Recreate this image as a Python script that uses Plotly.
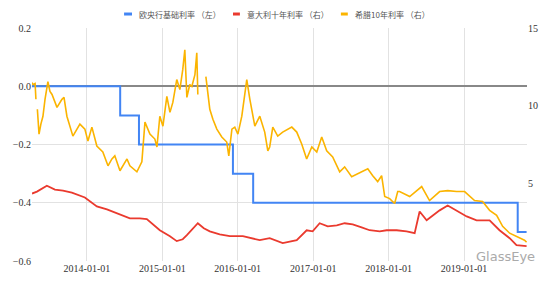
import plotly.graph_objects as go

# ECB deposit rate (left axis), step changes
ecb_dates = ["2013-04-10", "2014-06-11", "2014-09-10", "2015-12-09", "2016-03-16", "2019-09-18", "2019-10-31"]
ecb_vals = [0.0, -0.1, -0.2, -0.3, -0.4, -0.5, -0.5]

# Italy 10Y (right axis)
ita_dates = ["2013-04-10", "2013-05-04", "2013-06-21", "2013-07-30", "2013-09-07", "2013-10-20", "2013-12-22",
             "2014-02-18", "2014-04-08", "2014-05-26", "2014-07-28", "2014-09-14", "2014-10-18", "2014-12-20",
             "2015-02-07", "2015-03-12", "2015-04-10", "2015-04-30", "2015-06-22", "2015-07-21", "2015-08-19",
             "2015-10-06", "2015-11-24", "2016-01-26", "2016-03-09", "2016-04-17", "2016-06-04", "2016-07-08",
             "2016-08-06", "2016-10-13", "2016-11-30", "2016-12-29", "2017-02-01", "2017-03-12", "2017-04-25",
             "2017-06-02", "2017-07-11", "2017-08-23", "2017-10-01", "2017-11-19", "2017-12-22", "2018-02-09",
             "2018-03-29", "2018-05-07", "2018-05-31", "2018-07-04", "2018-08-02", "2018-09-05", "2018-10-14",
             "2018-11-26", "2019-01-14", "2019-03-03", "2019-05-05", "2019-06-22", "2019-08-10", "2019-09-12",
             "2019-10-11", "2019-10-31"]
ita_vals = [4.34, 4.47, 4.85, 4.60, 4.53, 4.40, 4.09,
            3.51, 3.32, 3.06, 2.74, 2.74, 2.70, 1.98,
            1.60, 1.28, 1.40, 1.66, 2.43, 2.11, 1.91,
            1.72, 1.60, 1.60, 1.47, 1.34, 1.47, 1.28,
            1.15, 1.34, 1.98, 1.91, 2.43, 2.23, 2.30,
            2.43, 2.36, 2.17, 1.98, 1.91, 1.98, 1.98,
            1.91, 1.79, 3.19, 2.62, 2.94, 3.26, 3.57,
            3.26, 2.87, 2.62, 2.62, 1.98, 1.47, 1.02,
            0.96, 0.96]

# Greece 10Y (right axis); None marks gaps in the data
grc_dates = ["2013-04-05", "2013-04-15", "2013-04-25", "2013-04-29", "2013-05-02", "2013-05-06", "2013-05-14",
             "2013-05-23", "2013-06-02", "2013-06-12", "2013-06-26", "2013-07-06", "2013-07-16", "2013-08-09",
             "2013-09-02", "2013-09-12", "2013-09-26", "2013-10-25", "2013-11-14", "2013-11-28", "2013-12-22",
             "2014-01-06", "2014-01-25", "2014-02-18", "2014-03-19", "2014-04-13", "2014-05-02", "2014-05-16",
             "2014-06-10", "2014-07-14", "2014-07-28", "2014-08-31", "2014-09-24", "2014-10-09", "2014-11-02",
             "2014-11-26", "2014-12-06", "2014-12-15", "2014-12-20", "2015-01-04", "2015-01-23", "2015-02-07",
             "2015-02-21", "2015-03-12", "2015-03-27", "2015-04-10", "2015-04-20", "2015-04-30", "2015-05-14",
             "2015-05-24", "2015-06-08", "2015-06-17", "2015-06-22", "2015-07-10", "2015-07-31", "2015-08-09",
             "2015-08-19", "2015-09-03", "2015-09-22", "2015-10-16", "2015-11-09", "2015-11-19", "2015-12-04",
             "2015-12-18", "2016-01-02", "2016-01-21", "2016-02-14", "2016-02-29", "2016-03-24", "2016-04-17",
             "2016-05-11", "2016-05-26", "2016-06-04", "2016-06-19", "2016-07-13", "2016-08-06", "2016-09-19",
             "2016-10-13", "2016-11-06", "2016-11-30", "2016-12-25", "2017-01-18", "2017-02-11", "2017-03-07",
             "2017-04-05", "2017-05-09", "2017-06-02", "2017-07-06", "2017-08-04", "2017-09-22", "2017-10-16",
             "2017-11-09", "2017-11-28", "2017-12-13", "2018-01-06", "2018-01-30", "2018-02-14", "2018-02-23",
             "2018-04-13", "2018-06-10", "2018-07-18", "2018-09-05", "2018-10-14", "2018-11-26", "2019-01-04",
             "2019-02-21", "2019-04-01", "2019-05-05", "2019-06-08", "2019-07-07", "2019-08-10", "2019-09-12",
             "2019-10-21", "2019-10-31"]
grc_vals = [11.55, 11.36, 11.43, 10.41, None, 9.77, 8.17,
            8.81, 9.32, 10.41, 11.55, 10.91, 10.72, 9.89,
            10.41, 10.53, 9.32, 8.04, 8.49, 8.81, 8.49,
            7.72, 8.62, 7.40, 7.02, 6.13, 6.57, 6.77,
            5.81, 6.57, 6.13, 5.74, 6.38, 8.94, 8.17,
            7.85, 7.34, 8.81, 9.32, 8.68, 10.60, 9.57,
            10.21, 11.68, 11.04, 12.32, 13.60, 10.53, 11.36,
            11.23, 12.00, 13.40, 10.72, None, 11.87, 10.72,
            9.77, 9.13, 8.49, 7.98, 7.66, 6.77, 8.49,
            8.62, 8.17, 9.32, 11.68, 10.41, 8.68, 9.32,
            8.30, 7.09, 7.34, 8.62, 8.04, 8.30, 8.62,
            8.30, 7.53, 6.57, 7.34, 7.02, 7.98, 7.09,
            6.70, 5.74, 6.06, 5.43, 5.62, 5.94, 5.49,
            5.11, 5.49, 4.15, 4.02, 3.70, 4.47, 4.47,
            4.15, 4.79, 3.89, 4.47, 4.53, 4.47, 4.47,
            3.89, 3.83, 3.26, 2.94, 2.23, 1.79, 1.60,
            1.34, 1.21]

legend_names = ["欧央行基础利率 （左）", "意大利十年利率 （右）", "希腊10年利率 （右）"]
colors = ["#4285f4", "#ea3a2e", "#fbb400"]

fig = go.Figure()
fig.add_trace(go.Scatter(x=ita_dates, y=ita_vals, yaxis="y2", mode="lines",
                         line=dict(color=colors[1], width=1.8), name=legend_names[1]))
fig.add_trace(go.Scatter(x=grc_dates, y=grc_vals, yaxis="y2", mode="lines",
                         line=dict(color=colors[2], width=1.6), name=legend_names[2], connectgaps=False))
fig.add_trace(go.Scatter(x=ecb_dates, y=ecb_vals, mode="lines", line_shape="hv",
                         line=dict(color=colors[0], width=2), name=legend_names[0]))

tick_font = dict(family="Liberation Serif, serif", size=10, color="#333")

fig.update_layout(
    width=550, height=286,
    margin=dict(l=32, r=23, t=28, b=23),
    paper_bgcolor="white", plot_bgcolor="white",
    showlegend=False,
    xaxis=dict(type="date", range=["2013-04-10", "2019-11-02"],
               tick0="2014-01-01", dtick="M12", tickformat="%Y-%m-%d",
               showgrid=True, gridcolor="#e2e2e2", gridwidth=1,
               showline=False, ticks="", tickfont=tick_font, zeroline=False),
    yaxis=dict(range=[-0.6, 0.2], dtick=0.2, tickformat=".1f",
               showgrid=True, gridcolor="#e2e2e2", gridwidth=1,
               zeroline=True, zerolinecolor="#888888", zerolinewidth=1.5,
               ticks="", tickfont=tick_font, showline=False),
    yaxis2=dict(range=[0, 15], overlaying="y", side="right",
                tickvals=[5, 10, 15], showgrid=False, zeroline=False,
                ticks="", tickfont=tick_font, showline=False),
)

# custom legend (short markers)
leg_positions = [(0.186, 0.202, 0.212), (0.406, 0.420, 0.430), (0.624, 0.638, 0.648)]
for (x0, x1, xt), name, c in zip(leg_positions, legend_names, colors):
    fig.add_shape(type="line", xref="paper", yref="paper", x0=x0, x1=x1, y0=1.06, y1=1.06,
                  line=dict(color=c, width=3))
    fig.add_annotation(xref="paper", yref="paper", x=xt, y=1.06, text=name, showarrow=False,
                       xanchor="left", yanchor="middle",
                       font=dict(family="Noto Sans CJK SC", size=8, color="#555"))

# watermark
fig.add_annotation(xref="paper", yref="paper", x=1.02, y=0.02, text="GlassEye", showarrow=False,
                   xanchor="right", yanchor="middle",
                   font=dict(family="DejaVu Sans", size=13, color="#aaaaaa"))

fig.write_html("out.html")
